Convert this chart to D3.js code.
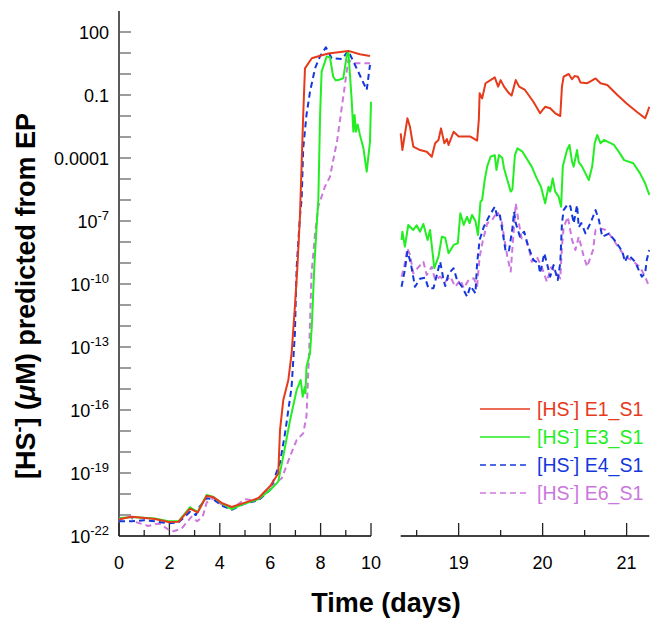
<!DOCTYPE html>
<html>
<head>
<meta charset="utf-8">
<style>
  body { margin: 0; background: #fff; }
  text { font-family: "Liberation Sans", Arial, Helvetica, sans-serif; }
</style>
</head>
<body>
<svg width="650" height="620"></svg>
<script src="https://d3js.org/d3.v7.min.js"></script>
<script>
// values are log10 of [HS-] in uM; days on x
var e1Left = [[0,-21.2],[0.5,-21.08],[1.43,-21.19],[1.96,-21.33],[2.36,-21.32],[2.82,-20.7],[3.12,-20.88],[3.48,-20.08],[3.74,-20.15],[4.07,-20.42],[4.47,-20.62],[5.0,-20.41],[5.53,-20.2],[6.0,-19.62],[6.32,-19.02],[6.39,-16.95],[6.52,-15.52],[6.72,-14.57],[6.85,-13.3],[6.98,-11.08],[7.08,-9.18],[7.18,-6.8],[7.31,-1.95],[7.38,0.27],[7.65,0.75],[7.98,0.87],[8.31,0.98],[9.1,1.1],[9.56,0.94],[9.96,0.86]];
var e3Left = [[0,-21.15],[0.5,-21.1],[1.43,-21.17],[1.96,-21.3],[2.36,-21.3],[2.82,-20.63],[3.12,-20.86],[3.48,-20.05],[3.74,-20.13],[4.07,-20.44],[4.47,-20.72],[5.0,-20.45],[5.53,-20.25],[6.0,-19.81],[6.32,-19.41],[6.59,-17.75],[6.79,-16.48],[7.05,-15.05],[7.21,-14.57],[7.29,-15.37],[7.37,-14.9],[7.4,-15.2],[7.44,-13.94],[7.58,-13.3],[7.65,-12.03],[7.75,-9.18],[7.84,-7.27],[7.91,-6.0],[7.98,-1.95],[8.04,0.11],[8.24,0.83],[8.37,0.8],[8.5,-0.13],[8.6,-0.3],[8.7,-0.29],[8.9,-0.2],[9.04,0.9],[9.1,1.1],[9.23,-1.16],[9.3,-2.75],[9.35,-1.95],[9.4,-2.75],[9.47,-2.4],[9.56,-2.9],[9.7,-3.54],[9.83,-4.65],[9.96,-3.22],[10,-1.32]];
var e4Left = [[0,-21.3],[0.5,-21.3],[1.0,-21.25],[1.43,-21.3],[1.96,-21.4],[2.36,-21.35],[2.82,-20.85],[3.05,-21.0],[3.2,-20.6],[3.48,-20.2],[3.74,-20.25],[4.07,-20.55],[4.47,-20.75],[5.0,-20.45],[5.53,-20.3],[6.0,-19.8],[6.39,-18.5],[6.59,-17.1],[6.85,-14.9],[6.98,-12.35],[7.05,-9.2],[7.18,-6.8],[7.25,-5.92],[7.31,-3.54],[7.44,-1.95],[7.58,-0.84],[7.78,0.27],[7.98,0.85],[8.21,1.27],[8.44,0.75],[8.84,0.71],[9.1,1.1],[9.43,0.27],[9.83,-0.76],[9.96,0.43]];
var e6Left = [[0,-21.25],[0.4,-21.05],[0.7,-21.35],[1.16,-21.52],[1.6,-21.4],[2.09,-21.8],[2.48,-21.65],[2.88,-21.08],[3.1,-21.3],[3.32,-21.08],[3.48,-20.4],[3.74,-20.2],[4.07,-20.5],[4.47,-20.7],[5.0,-20.25],[5.3,-20.3],[5.53,-20.2],[6.0,-19.65],[6.46,-19.25],[6.79,-18.2],[7.05,-17.43],[7.31,-17.11],[7.44,-16.3],[7.55,-13.0],[7.64,-9.5],[7.78,-7.6],[7.91,-6.3],[8.17,-5.37],[8.37,-4.9],[8.66,-3.14],[8.9,-1.08],[9.1,0.67],[9.3,0.51],[9.96,0.51]];

var e1Right = [[18.31,-2.83],[18.33,-3.62],[18.39,-2.11],[18.42,-2.51],[18.46,-3.46],[18.54,-3.62],[18.62,-3.7],[18.68,-3.94],[18.72,-3.3],[18.76,-3.14],[18.79,-2.59],[18.83,-3.3],[18.86,-3.1],[18.88,-3.38],[18.94,-2.75],[19.0,-2.98],[19.14,-2.98],[19.22,-3.17],[19.24,-2.19],[19.25,-0.92],[19.28,-1.16],[19.32,-0.44],[19.38,-0.29],[19.43,-0.16],[19.47,-0.6],[19.5,-0.29],[19.54,-0.6],[19.6,-0.92],[19.63,-1.03],[19.68,-0.29],[19.72,-0.6],[19.79,-0.76],[19.89,-1.32],[19.97,-1.87],[20.0,-1.71],[20.03,-1.56],[20.09,-1.63],[20.15,-1.87],[20.21,-2.0],[20.23,-0.6],[20.25,-0.13],[20.31,0.0],[20.35,-0.25],[20.38,-0.1],[20.42,-0.13],[20.45,-0.4],[20.53,-0.44],[20.57,-0.35],[20.63,-0.21],[20.69,-0.44],[20.77,-0.52],[20.89,-1.0],[21.0,-1.4],[21.12,-1.8],[21.22,-2.11],[21.25,-1.8],[21.27,-1.56]];
var e3Right = [[18.32,-7.9],[18.33,-7.51],[18.36,-8.22],[18.4,-7.19],[18.46,-7.43],[18.5,-7.2],[18.54,-7.51],[18.58,-7.14],[18.63,-7.9],[18.66,-7.43],[18.71,-9.25],[18.76,-8.7],[18.8,-7.75],[18.84,-7.8],[18.88,-8.54],[18.94,-8.14],[18.99,-8.06],[19.02,-6.63],[19.06,-7.19],[19.1,-6.8],[19.13,-7.1],[19.16,-6.71],[19.2,-7.0],[19.23,-7.67],[19.26,-6.08],[19.28,-6.0],[19.31,-5.05],[19.34,-4.4],[19.38,-3.94],[19.43,-3.86],[19.45,-4.57],[19.48,-3.86],[19.52,-4.0],[19.54,-4.49],[19.58,-5.05],[19.62,-5.6],[19.64,-5.5],[19.67,-3.86],[19.7,-3.54],[19.76,-3.7],[19.81,-4.02],[19.87,-4.41],[19.93,-4.97],[19.98,-5.37],[20.03,-6.16],[20.07,-5.37],[20.09,-5.6],[20.12,-4.97],[20.15,-5.6],[20.19,-5.84],[20.22,-6.32],[20.24,-4.41],[20.29,-3.62],[20.32,-3.38],[20.35,-4.17],[20.37,-4.41],[20.41,-3.62],[20.43,-4.2],[20.47,-4.41],[20.51,-4.73],[20.55,-5.05],[20.59,-4.41],[20.62,-3.3],[20.65,-2.9],[20.69,-3.3],[20.73,-3.14],[20.85,-3.38],[20.92,-3.78],[20.97,-4.1],[21.08,-4.25],[21.16,-4.73],[21.22,-5.2],[21.27,-5.76]];
var e4Right = [[18.32,-10.13],[18.36,-9.33],[18.39,-8.46],[18.43,-9.0],[18.48,-10.13],[18.54,-9.75],[18.6,-9.7],[18.64,-10.2],[18.7,-10.2],[18.74,-9.57],[18.78,-8.94],[18.82,-9.8],[18.84,-10.1],[18.88,-9.5],[18.94,-9.25],[18.98,-9.8],[19.04,-10.13],[19.1,-10.6],[19.14,-10.1],[19.2,-10.44],[19.22,-9.0],[19.25,-7.9],[19.3,-7.27],[19.36,-6.8],[19.43,-6.32],[19.46,-6.8],[19.49,-6.7],[19.52,-7.43],[19.56,-8.46],[19.6,-8.4],[19.64,-7.35],[19.66,-6.56],[19.68,-7.1],[19.73,-7.75],[19.78,-7.51],[19.83,-8.22],[19.89,-8.86],[19.95,-9.0],[19.97,-9.49],[20.02,-8.54],[20.05,-9.0],[20.09,-9.65],[20.13,-9.1],[20.18,-9.81],[20.21,-9.0],[20.23,-7.11],[20.25,-6.48],[20.3,-6.19],[20.33,-6.3],[20.37,-7.11],[20.41,-6.24],[20.43,-7.3],[20.46,-7.1],[20.51,-7.59],[20.57,-7.1],[20.63,-6.48],[20.67,-6.95],[20.71,-7.75],[20.79,-7.6],[20.87,-7.98],[20.95,-8.46],[20.98,-8.94],[21.02,-8.6],[21.1,-8.94],[21.18,-9.65],[21.22,-9.5],[21.24,-8.86],[21.27,-8.38]];
var e6Right = [[18.32,-9.65],[18.35,-9.2],[18.39,-8.3],[18.42,-8.6],[18.46,-9.49],[18.52,-9.2],[18.58,-8.94],[18.62,-9.57],[18.68,-9.18],[18.72,-9.81],[18.78,-9.65],[18.84,-9.9],[18.9,-9.65],[18.96,-10.13],[19.02,-9.8],[19.06,-10.2],[19.12,-9.8],[19.18,-9.73],[19.22,-10.1],[19.25,-8.7],[19.29,-7.9],[19.34,-7.11],[19.4,-6.95],[19.46,-6.56],[19.51,-6.95],[19.54,-7.75],[19.58,-8.7],[19.62,-9.41],[19.64,-8.3],[19.68,-6.16],[19.71,-6.95],[19.75,-7.83],[19.8,-7.9],[19.84,-8.38],[19.87,-8.94],[19.93,-8.7],[19.99,-9.2],[20.05,-9.89],[20.1,-9.2],[20.16,-9.45],[20.21,-9.73],[20.23,-8.22],[20.25,-7.3],[20.3,-6.8],[20.35,-7.9],[20.39,-8.38],[20.43,-7.75],[20.49,-8.7],[20.53,-9.18],[20.6,-8.38],[20.63,-7.43],[20.69,-7.35],[20.75,-7.43],[20.79,-7.6],[20.87,-8.06],[20.98,-8.7],[21.06,-8.86],[21.16,-9.2],[21.22,-9.65],[21.26,-10.05]];

var seriesNames = ["E1_S1", "E3_S1", "E4_S1", "E6_S1"];
var seriesColors = ["#e63a1c", "#22ee22", "#1438dc", "#cc77dd"];
var seriesDash = [null, null, "6,4", "6,4"];
var leftData = [e1Left, e3Left, e4Left, e6Left];
var rightData = [e1Right, e3Right, e4Right, e6Right];

var yLabelExp = [2, -1, -4, -7, -10, -13, -16, -19, -22];
var leftTicks = [0, 2, 4, 6, 8, 10];
var rightTicks = [19, 20, 21];

var svg = d3.select("svg");

var y = d3.scaleLog().domain([1e-22, 1e3]).range([536, 11]);
var xL = d3.scaleLinear().domain([0, 10]).range([119, 371]);
var xR = d3.scaleLinear().domain([18.31, 21.27]).range([400.7, 649.3]);

// y axis
var yAxis = svg.append("g");
yAxis.append("line").attr("x1", 119).attr("x2", 119).attr("y1", y(1e3)).attr("y2", y(1e-22))
  .attr("stroke", "#000").attr("stroke-width", 1.3);
d3.range(-21, 3).forEach(function(e) {
  yAxis.append("line").attr("x1", 119).attr("x2", 131)
    .attr("y1", y(Math.pow(10, e))).attr("y2", y(Math.pow(10, e)))
    .attr("stroke", "#666").attr("stroke-width", 1.3);
});
yLabelExp.forEach(function(e) {
  var t = yAxis.append("text").attr("x", 109).attr("y", y(Math.pow(10, e)) + 6.5)
    .attr("text-anchor", "end").attr("font-size", 18).attr("fill", "#000");
  if (e == 2) t.text("100");
  else if (e == -1) t.text("0.1");
  else if (e == -4) t.text("0.0001");
  else {
    t.append("tspan").text("10");
    t.append("tspan").attr("dy", -8).attr("font-size", 13).text(e);
  }
});

// x axes
function drawX(x, majors, minors, x0, x1) {
  var g = svg.append("g");
  g.append("line").attr("x1", x0).attr("x2", x1).attr("y1", 536).attr("y2", 536)
    .attr("stroke", "#000").attr("stroke-width", 1.3);
  minors.forEach(function(d) {
    g.append("line").attr("x1", x(d)).attr("x2", x(d)).attr("y1", 536).attr("y2", 530)
      .attr("stroke", "#222").attr("stroke-width", 1.3);
  });
  majors.forEach(function(d) {
    g.append("line").attr("x1", x(d)).attr("x2", x(d)).attr("y1", 536).attr("y2", 523)
      .attr("stroke", "#222").attr("stroke-width", 1.3);
    g.append("text").attr("x", x(d)).attr("y", 569).attr("text-anchor", "middle")
      .attr("font-size", 18).attr("fill", "#000").text(d);
  });
}
drawX(xL, leftTicks, [1, 3, 5, 7, 9], 119, 371);
drawX(xR, rightTicks, [18.5, 19.5, 20.5], 400.7, 649.3);

// series, drawn back to front: violet, blue, green, red
var drawOrder = [3, 2, 1, 0];
function drawSeries(x, sets) {
  var line = d3.line()
    .x(function(d) { return x(d[0]); })
    .y(function(d) { return y(Math.pow(10, d[1])); });
  drawOrder.forEach(function(i) {
    svg.append("path").datum(sets[i])
      .attr("fill", "none")
      .attr("stroke", seriesColors[i])
      .attr("stroke-width", 2)
      .attr("stroke-linejoin", "round")
      .attr("stroke-dasharray", seriesDash[i])
      .attr("d", line);
  });
}
drawSeries(xL, leftData);
drawSeries(xR, rightData);

// legend
var leg = svg.append("g");
seriesNames.forEach(function(n, i) {
  var yy = 409 + i * 28;
  leg.append("line").attr("x1", 480).attr("x2", 530).attr("y1", yy).attr("y2", yy)
    .attr("stroke", seriesColors[i]).attr("stroke-width", 1.6)
    .attr("stroke-dasharray", seriesDash[i]);
  var t = leg.append("text").attr("x", 537).attr("y", yy + 7)
    .attr("font-size", 19.5).attr("fill", seriesColors[i]);
  t.append("tspan").text("[HS");
  t.append("tspan").attr("dy", -8).attr("font-size", 13).text("-");
  t.append("tspan").attr("dy", 8).text("] " + n);
});

// axis titles
var yt = svg.append("text")
  .attr("transform", "translate(35,296) rotate(-90)")
  .attr("text-anchor", "middle").attr("font-size", 27).attr("font-weight", "bold");
yt.append("tspan").text("[HS");
yt.append("tspan").attr("dy", -10).attr("font-size", 18).text("-");
yt.append("tspan").attr("dy", 10).text("] (");
yt.append("tspan").attr("font-style", "italic").text("\u03bc");
yt.append("tspan").text("M) predicted from EP");

svg.append("text").attr("x", 386).attr("y", 612).attr("text-anchor", "middle")
  .attr("font-size", 27).attr("font-weight", "bold").text("Time (days)");
</script>
</body>
</html>
